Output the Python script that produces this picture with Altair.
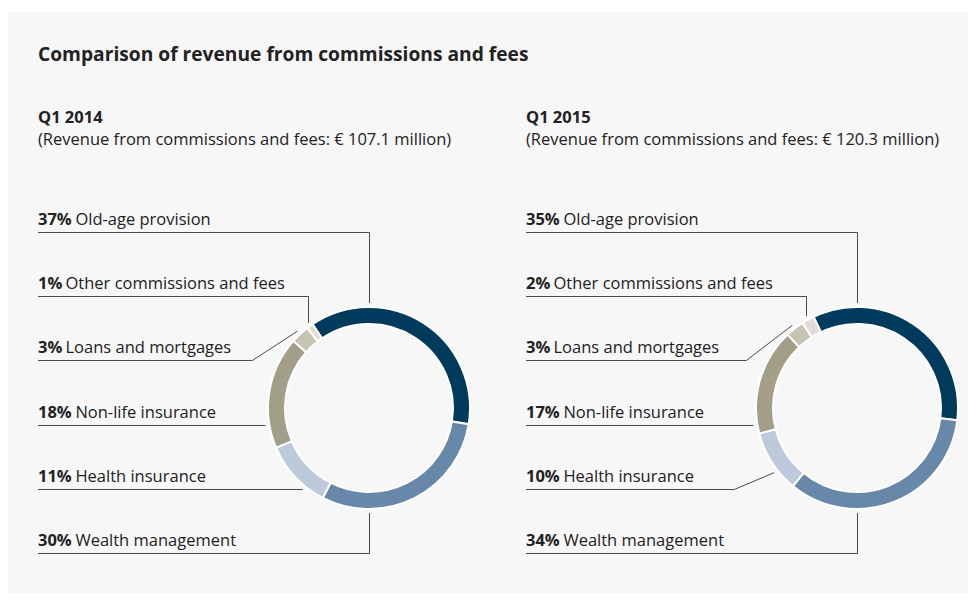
import math
import altair as alt
import pandas as pd

# ---------------- data ----------------
categories = ["Old-age provision", "Wealth management", "Health insurance",
              "Non-life insurance", "Loans and mortgages", "Other commissions and fees"]
pct_2014 = [37, 30, 11, 18, 3, 1]
pct_2015 = [35, 34, 10, 17, 3, 2]
label_order = ["Old-age provision", "Other commissions and fees", "Loans and mortgages",
               "Non-life insurance", "Health insurance", "Wealth management"]
colors = ["#003a5d", "#6788a8", "#bdcadc", "#a39e88", "#c7c3b2", "#e0ddd4"]

title_text = "Comparison of revenue from commissions and fees"
panel_titles = ["Q1 2014", "Q1 2015"]
panel_subtitles = ["(Revenue from commissions and fees: € 107.1 million)",
                   "(Revenue from commissions and fees: € 120.3 million)"]

# ---------------- layout ----------------
W, H = 960, 585
FONT = "Open Sans"
R_OUT, R_IN, GAP = 101, 84, 4
ROW_Y0, ROW_STEP = 217, 64.2
panels = [
    dict(x0=30, cx=361, cy=400, start=-34.0, pcts=pct_2014,
         kinds=["top", ("elbow", 0.5), ("diag", 0.5, 45), "flat", "flat", "bottom"]),
    dict(x0=518, cx=849, cy=400, start=-29.0, pcts=pct_2015,
         kinds=["top", ("elbow", 0.5), ("diag", 0.5, 46), "flat", ("diag", 0.35, 40), "bottom"]),
]

def pt(cx, cy, rad, ang):
    a = math.radians(ang)
    return cx + rad * math.sin(a), cy - rad * math.cos(a)

def bold_width(s):
    w = 0
    for ch in s:
        w += 9.9 if ch.isdigit() else 13.6
    return w + 4.0

xs = alt.Scale(domain=[0, W], range=[0, W], nice=False, zero=False)
ys = alt.Scale(domain=[0, H], range=[0, H], nice=False, zero=False)

layers = []

# background panel
bg = alt.Chart(pd.DataFrame({"a": [0]})).mark_rect(color="#f7f7f7").encode(
    x=alt.value(0), x2=alt.value(W), y=alt.value(4), y2=alt.value(H))
layers.append(bg)

bold_rows, reg_rows, line_rows = [], [], []
for pi, p in enumerate(panels):
    seg = {}
    cum = 0
    for c, v in zip(categories, p["pcts"]):
        a0 = p["start"] + cum * 3.6
        cum += v
        a1 = p["start"] + cum * 3.6
        seg[c] = (a0, a1)
    for i, c in enumerate(label_order):
        v = p["pcts"][categories.index(c)]
        yb = ROW_Y0 + i * ROW_STEP
        ly = round(yb + 7) + 0.5
        ptxt = f"{v}%"
        bold_rows.append(dict(x=p["x0"], y=yb, t=ptxt))
        reg_rows.append(dict(x=p["x0"] + bold_width(ptxt), y=yb, t=c))
        k = p["kinds"][i]
        cx, cy = p["cx"] + 0.5, p["cy"]
        a0, a1 = seg[c]
        if k == "top":
            pts = [(p["x0"], ly), (cx, ly), (cx, cy - R_OUT - GAP)]
        elif k == "bottom":
            pts = [(p["x0"], ly), (cx, ly), (cx, cy + R_OUT + GAP)]
        elif k == "flat":
            dy = ly - p["cy"]
            px = p["cx"] - math.sqrt((R_OUT + GAP) ** 2 - dy ** 2)
            pts = [(p["x0"], ly), (px, ly)]
        elif k[0] == "elbow":
            px, py = pt(p["cx"], p["cy"], R_OUT + GAP, a0 + k[1] * (a1 - a0))
            px = round(px) + 0.5
            pts = [(p["x0"], ly), (px, ly), (px, py)]
        else:
            px, py = pt(p["cx"], p["cy"], R_OUT + GAP, a0 + k[1] * (a1 - a0))
            pts = [(p["x0"], ly), (px - k[2], ly), (px, py)]
        for j, (x, y) in enumerate(pts):
            line_rows.append(dict(id=f"{pi}-{i}", k=j, x=x, y=y))

lines = alt.Chart(pd.DataFrame(line_rows)).mark_line(
    color="#4a4a4a", strokeWidth=1, strokeCap="butt").encode(
    x=alt.X("x:Q", scale=xs, axis=None),
    y=alt.Y("y:Q", scale=ys, axis=None),
    detail="id:N", order="k:Q")
layers.append(lines)

for pi, p in enumerate(panels):
    df = pd.DataFrame({"cat": categories, "pct": p["pcts"], "idx": list(range(len(categories)))})
    start = math.radians(p["start"])
    arc = alt.Chart(df).mark_arc(radius=R_OUT, innerRadius=R_IN, stroke="white",
                                 strokeWidth=2).encode(
        theta=alt.Theta("pct:Q", stack=True,
                        scale=alt.Scale(domain=[0, 100], range=[start, start + 2 * math.pi])),
        order=alt.Order("idx:Q"),
        color=alt.Color("cat:N", scale=alt.Scale(domain=categories, range=colors), legend=None),
        x=alt.value(p["cx"]), y=alt.value(p["cy"]))
    layers.append(arc)

def txt(rows, size, bold=False):
    kw = dict(fontWeight="bold") if bold else {}
    return alt.Chart(pd.DataFrame(rows)).mark_text(
        align="left", baseline="alphabetic", font=FONT, fontSize=size,
        color="#222222", **kw).encode(
        x=alt.X("x:Q", scale=xs, axis=None), y=alt.Y("y:Q", scale=ys, axis=None), text="t:N")

layers.append(txt(bold_rows, 16.5, bold=True))
layers.append(txt(reg_rows, 16.5))
layers.append(txt([dict(x=30, y=53, t=title_text)], 19.2, bold=True))
layers.append(txt([dict(x=p["x0"], y=115, t=t) for p, t in zip(panels, panel_titles)], 16.5, bold=True))
layers.append(txt([dict(x=p["x0"], y=137, t=t) for p, t in zip(panels, panel_subtitles)], 16.5))

chart = alt.layer(*layers).resolve_scale(theta="independent").properties(
    width=W, height=H, background="white",
    autosize=alt.AutoSizeParams(type="none"), padding=0
).configure_view(stroke=None)

chart.save("out.html", embed_options={"renderer": "svg", "actions": False})
